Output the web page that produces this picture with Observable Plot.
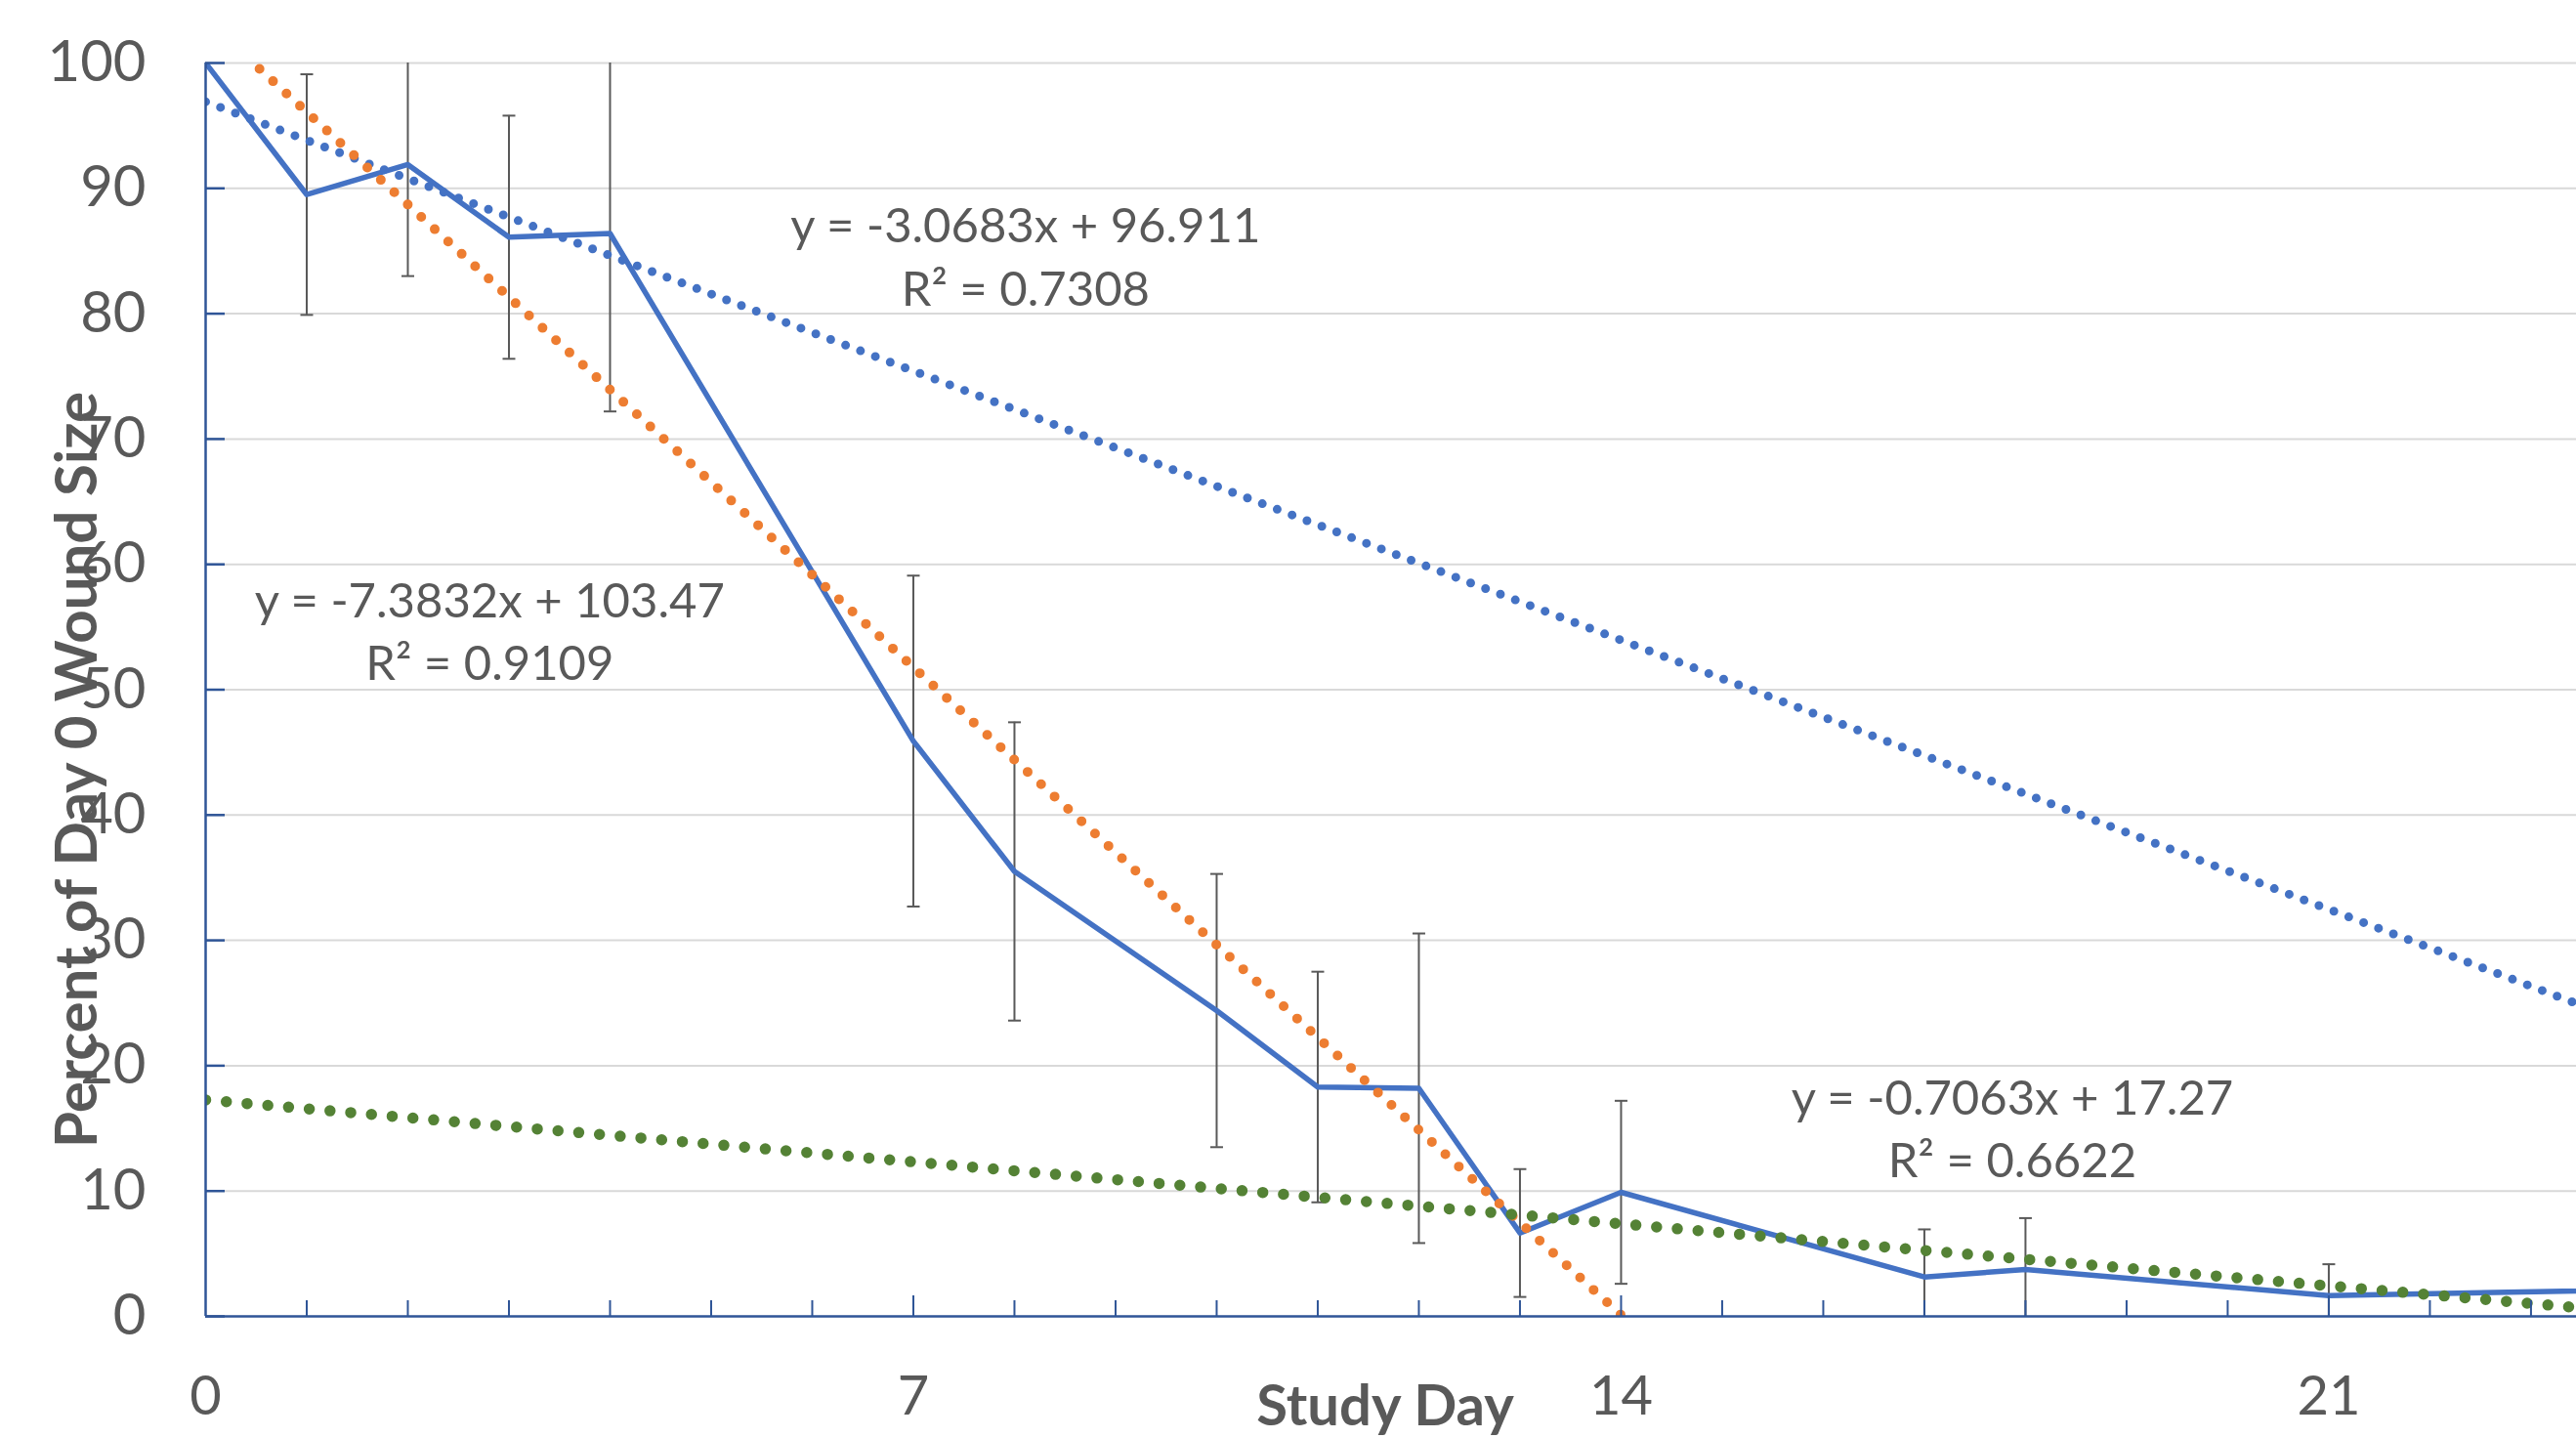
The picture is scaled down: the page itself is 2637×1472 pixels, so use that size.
<!DOCTYPE html>
<html><head><meta charset="utf-8">
<script src="https://cdn.jsdelivr.net/npm/d3@7"></script>
<script src="https://cdn.jsdelivr.net/npm/@observablehq/plot@0.6"></script>
<style>html,body{margin:0;padding:0;background:#fff;} #chart{width:2637px;height:1472px;overflow:hidden}</style>
</head><body><div id="chart"></div>
<script>
// ---- data ----
const days    = [0, 1, 2, 3, 4, 7, 8, 10, 11, 12, 13, 14, 17, 18, 21, 28];
const meanPct = [100, 89.5, 91.9, 86.1, 86.4, 45.9, 35.5, 24.4, 18.3, 18.2, 6.65, 9.9, 3.14, 3.74, 1.66, 2.7];
const sdPct   = [0, 9.6, 8.9, 9.7, 14.2, 13.2, 11.9, 10.9, 9.2, 12.35, 5.1, 7.3, 3.8, 4.1, 2.5, 0];

const trendSlope     = [-3.0683, -7.3832, -0.7063];
const trendIntercept = [96.911, 103.47, 17.27];
const trendFrom      = [0, 0, 0];
const trendTo        = [28, 14, 28];
const trendLabels    = ["y = -3.0683x + 96.911\nR² = 0.7308",
                        "y = -7.3832x + 103.47\nR² = 0.9109",
                        "y = -0.7063x + 17.27\nR² = 0.6622"];
const xTickLabels = [0, 7, 14, 21];
const yTickLabels = [0, 10, 20, 30, 40, 50, 60, 70, 80, 90, 100];
const minorDays   = d3.range(1, 24);
const xTitle = "Study Day";
const yTitle = "Percent of Day 0 Wound Size";

// ---- layout / style ----
const W = 2637, H = 1472;
const M = {top: 64, right: 0, bottom: 125, left: 210};
const plotW = W - M.left - M.right, plotH = H - M.top - M.bottom;
const labelAt = [{x: 8.11, y: 80.67}, {x: 2.81, y: 50.8}, {x: 17.87, y: 11.07}];
const trendStyle = [
  {stroke: "#4472C4", strokeWidth: 9, dash: "0 16.3"},
  {stroke: "#ED7D31", strokeWidth: 10, dash: "0 18.7"},
  {stroke: "#548235", strokeWidth: 11.5, dash: "0 21.3"}
];
const axisColor = "#2F5597";
const textColor = "#595959";

const rows = days.map((d, i) => ({day: d, mean: meanPct[i], sd: sdPct[i],
  lo: meanPct[i] - sdPct[i], hi: meanPct[i] + sdPct[i]}));
const errRows = rows.filter(d => d.sd > 0);
const capSymbol = {draw(ctx) { ctx.moveTo(-6.5, 0); ctx.lineTo(6.5, 0); }};

const trendMarks = trendSlope.map((s, i) => {
  const pts = [trendFrom[i], trendTo[i]].map(x => ({x, y: s * x + trendIntercept[i]}));
  return Plot.line(pts, {x: "x", y: "y", stroke: trendStyle[i].stroke, strokeWidth: trendStyle[i].strokeWidth,
    strokeDasharray: trendStyle[i].dash, strokeLinecap: "round", clip: true});
});
const annRows = trendLabels.map((t, i) => ({text: t, x: labelAt[i].x, y: labelAt[i].y}));

const chart = Plot.plot({
  width: W, height: H,
  marginTop: M.top, marginRight: M.right, marginBottom: M.bottom, marginLeft: M.left,
  style: {fontFamily: "Lato, 'Open Sans', sans-serif", color: textColor, background: "#fff", overflow: "visible"},
  x: {domain: [0, 23.45]},
  y: {domain: [0, 100]},
  marks: [
    Plot.ruleY(yTickLabels.filter(v => v > 0), {stroke: "#D9D9D9", strokeWidth: 2}),
    Plot.ruleX(errRows, {x: "day", y1: "lo", y2: "hi", stroke: "#595959", strokeWidth: 2, clip: true}),
    Plot.dot(errRows, {x: "day", y: "hi", symbol: capSymbol, stroke: "#595959", fill: "none", strokeWidth: 2, clip: true}),
    Plot.dot(errRows, {x: "day", y: "lo", symbol: capSymbol, stroke: "#595959", fill: "none", strokeWidth: 2, clip: true}),
    Plot.line(rows, {x: "day", y: "mean", stroke: "#4472C4", strokeWidth: 5.5, strokeLinejoin: "round", clip: true}),
    ...trendMarks,
    Plot.ruleX([0], {stroke: axisColor, strokeWidth: 2.5}),
    Plot.ruleY([0], {stroke: axisColor, strokeWidth: 2.5}),
    Plot.tickY(yTickLabels, {y: d => d, stroke: axisColor, strokeWidth: 2.5, insetRight: plotW - 20}),
    Plot.tickX(minorDays.filter(d => d % 7 !== 0), {x: d => d, stroke: axisColor, strokeWidth: 2, insetTop: plotH - 16}),
    Plot.tickX(minorDays.filter(d => d % 7 === 0), {x: d => d, stroke: axisColor, strokeWidth: 2, insetTop: plotH - 21}),
    Plot.axisY(yTickLabels, {tickSize: 0, tickPadding: 61, fontSize: 58, label: null, fill: textColor}),
    Plot.axisX(xTickLabels, {tickSize: 0, tickPadding: 61, fontSize: 56, label: null, fill: textColor}),
    Plot.text(annRows, {x: "x", y: "y", text: "text", lineAnchor: "bottom", lineHeight: 1.31, fontSize: 49, fill: textColor}),
    Plot.text([yTitle], {frameAnchor: "left", rotate: -90, dx: -112, dy: 82, lineAnchor: "bottom", textAnchor: "middle",
      fontSize: 60, fontWeight: "bold", fill: textColor}),
    Plot.text([xTitle], {frameAnchor: "bottom", dx: -6, dy: 111, lineAnchor: "bottom", textAnchor: "middle",
      fontSize: 58, fontWeight: "bold", fill: textColor})
  ]
});
document.getElementById("chart").appendChild(chart);
</script></body></html>
